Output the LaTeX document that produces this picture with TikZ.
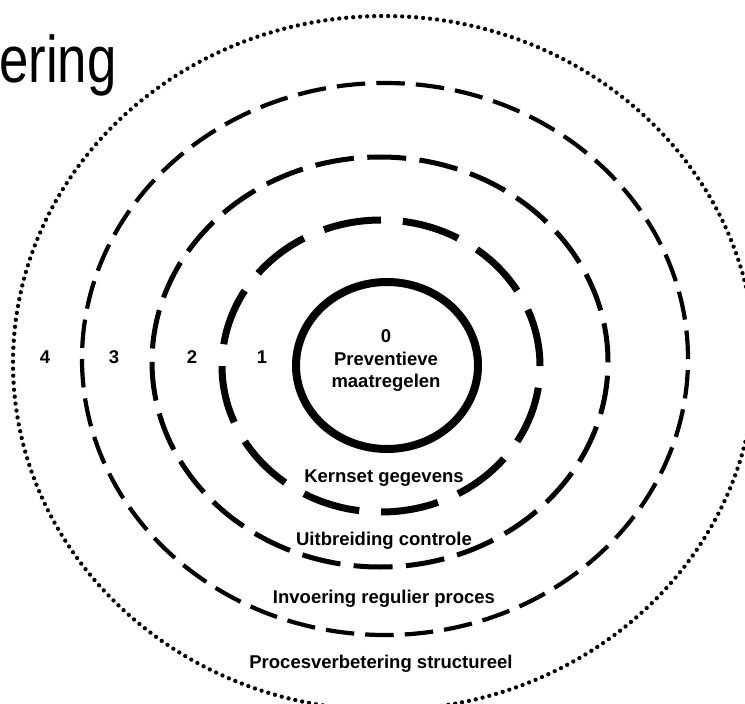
\documentclass[tikz,border=0pt]{standalone}
\usepackage{fontspec}
\setmainfont{Liberation Sans}
\tikzset{
  lbl/.style={font=\fontsize{18.5}{22}\selectfont\bfseries, inner sep=0pt, anchor=base},
  ringzero/.style={line width=8pt},
  ringone/.style={line width=7pt, dash pattern=on 58pt off 21.9pt},
  ringtwo/.style={line width=5pt, dash pattern=on 39pt off 13.35pt},
  ringthree/.style={line width=4.2pt, dash pattern=on 28.5pt off 11.07pt},
  ringdots/.style={line width=4.3pt, line cap=round, dash pattern=on 0pt off 7pt},
}
\begin{document}
\begin{tikzpicture}[x=1pt,y=-1pt]
  \useasboundingbox (0,0) rectangle (745,704);
  \clip (0,0) rectangle (745,704);
  % title fragment
  \node[anchor=base west, inner sep=0pt, font=\fontsize{66}{66}\selectfont] (title) at (-1,82) {\scalebox{0.8}[1]{ering}};
  % rings
  \draw[ringdots]  (384,363) ellipse [x radius=371pt, y radius=347pt];
  \draw[ringthree] (385,359) ellipse [x radius=303pt, y radius=276pt];
  \draw[ringtwo]   (380,362) ellipse [x radius=228pt, y radius=205pt];
  \draw[ringone]   (381,366) ellipse [x radius=159pt, y radius=146pt];
  \draw[ringzero]  (387,365.5) ellipse [x radius=91pt, y radius=83.5pt];
  % centre labels
  \node[lbl] (zero) at (386,342) {0};
  \node[lbl] (prev) at (386,365) {Preventieve};
  \node[lbl] (maat) at (386,387) {maatregelen};
  % level numbers
  \node[lbl] (n4) at (45,363) {4};
  \node[lbl] (n3) at (114,363) {3};
  \node[lbl] (n2) at (192,363) {2};
  \node[lbl] (n1) at (262,363) {1};
  % ring labels
  \node[lbl] (kern) at (384,482) {Kernset gegevens};
  \node[lbl] (uitb) at (384,545) {Uitbreiding controle};
  \node[lbl] (invo) at (384,603) {Invoering regulier proces};
  \node[lbl] (proc) at (381,668) {Procesverbetering structureel};
\end{tikzpicture}
\end{document}
